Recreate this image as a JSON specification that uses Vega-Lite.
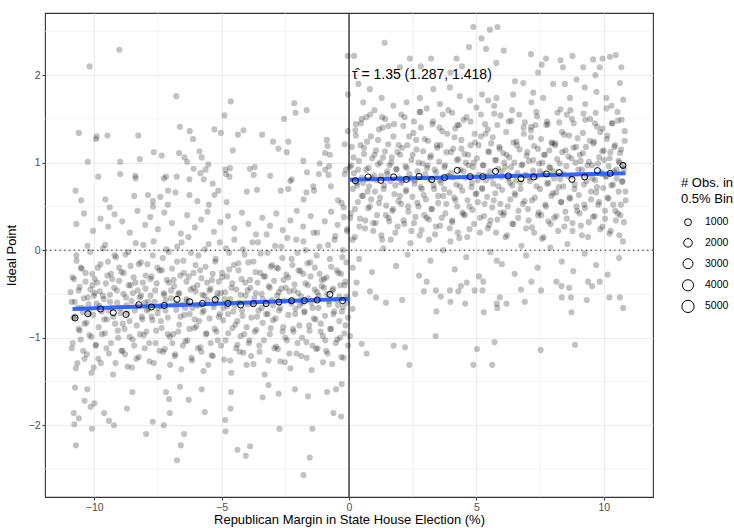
{
"$schema":"https://vega.github.io/schema/vega-lite/v6.json",
"width":608,"height":484,
"padding":{"left":45,"top":13,"right":81,"bottom":31},
"autosize":{"type":"none"},
"config":{
"view":{"stroke":"#333333","strokeWidth":1.1},
"font":"Liberation Sans",
"axis":{"labelFont":"Liberation Sans","labelFontSize":10.5,"labelColor":"#4d4d4d","titleFont":"Liberation Sans","titleFontSize":13,"titleFontWeight":"normal","titleColor":"black","tickColor":"#333333","tickSize":3,"labelPadding":2,"domain":false,"gridColor":"#ebebeb","gridWidth":1.1,"format":"d"}
},
"datasets":{
"pts":[
{"x":-10.93,"y":-0.48},{"x":-10.88,"y":-1.12},{"x":-10.85,"y":-0.31},{"x":-10.81,"y":-0.77},{"x":-10.76,"y":-0.59},{"x":-10.72,"y":-1.35},{"x":-10.69,"y":-0.12},{"x":-10.64,"y":-0.66},{"x":-10.61,"y":-0.9},{"x":-10.57,"y":-0.42},{"x":-10.53,"y":-1.02},{"x":-10.49,"y":-0.21},{"x":-10.45,"y":-0.71},{"x":-10.41,"y":-0.55},{"x":-10.38,"y":-1.24},{"x":-10.34,"y":-0.36},{"x":-10.3,"y":-0.83},{"x":-10.26,"y":0.05},{"x":-10.22,"y":-0.62},{"x":-10.19,"y":-0.97},{"x":-10.15,"y":-0.45},{"x":-10.11,"y":-1.4},{"x":-10.08,"y":-0.27},{"x":-10.04,"y":-0.74},{"x":-10.01,"y":-0.52},
{"x":-9.98,"y":-0.33},{"x":-9.94,"y":-1.08},{"x":-9.9,"y":-0.61},{"x":-9.86,"y":-0.2},{"x":-9.82,"y":-0.88},{"x":-9.78,"y":-0.47},{"x":-9.74,"y":-1.29},{"x":-9.7,"y":-0.7},{"x":-9.66,"y":0.02},{"x":-9.62,"y":-0.56},{"x":-9.58,"y":-0.95},{"x":-9.54,"y":-0.38},{"x":-9.5,"y":-0.79},{"x":-9.46,"y":-0.13},{"x":-9.42,"y":-1.18},{"x":-9.38,"y":-0.51},{"x":-9.34,"y":-0.27},{"x":-9.3,"y":-0.66},{"x":-9.26,"y":-1.42},{"x":-9.22,"y":-0.43},{"x":-9.18,"y":-0.84},{"x":-9.14,"y":-0.08},{"x":-9.1,"y":-0.6},{"x":-9.06,"y":-1.0},{"x":-9.02,"y":-0.35},
{"x":-8.97,"y":-0.72},{"x":-8.93,"y":-0.25},{"x":-8.89,"y":-1.15},{"x":-8.85,"y":-0.5},{"x":-8.81,"y":-0.9},{"x":-8.77,"y":-0.05},{"x":-8.73,"y":-0.63},{"x":-8.69,"y":-1.33},{"x":-8.65,"y":-0.4},{"x":-8.61,"y":-0.81},{"x":-8.57,"y":-0.18},{"x":-8.53,"y":-0.58},{"x":-8.49,"y":-1.02},{"x":-8.45,"y":-0.31},{"x":-8.41,"y":-0.69},{"x":-8.37,"y":0.08},{"x":-8.33,"y":-0.86},{"x":-8.29,"y":-0.46},{"x":-8.25,"y":-1.22},{"x":-8.21,"y":-0.54},{"x":-8.17,"y":-0.14},{"x":-8.13,"y":-0.76},{"x":-8.09,"y":-0.37},{"x":-8.05,"y":-0.97},{"x":-8.01,"y":-0.6},
{"x":-7.99,"y":-0.44},{"x":-7.95,"y":-0.93},{"x":-7.91,"y":-0.16},{"x":-7.87,"y":-0.67},{"x":-7.83,"y":-1.27},{"x":-7.79,"y":-0.52},{"x":-7.75,"y":-0.3},{"x":-7.71,"y":-0.8},{"x":-7.67,"y":0.1},{"x":-7.63,"y":-0.59},{"x":-7.59,"y":-1.06},{"x":-7.55,"y":-0.38},{"x":-7.51,"y":-0.72},{"x":-7.47,"y":-1.45},{"x":-7.43,"y":-0.23},{"x":-7.39,"y":-0.64},{"x":-7.35,"y":-0.89},{"x":-7.31,"y":-0.09},{"x":-7.27,"y":-0.49},{"x":-7.23,"y":-1.13},{"x":-7.19,"y":-0.57},{"x":-7.15,"y":-0.34},{"x":-7.11,"y":-0.77},{"x":-7.07,"y":-0.02},{"x":-7.03,"y":-0.99},
{"x":-6.98,"y":-0.55},{"x":-6.94,"y":-0.21},{"x":-6.9,"y":-0.96},{"x":-6.86,"y":-0.41},{"x":-6.82,"y":-1.19},{"x":-6.78,"y":-0.68},{"x":-6.74,"y":0.04},{"x":-6.7,"y":-0.5},{"x":-6.66,"y":-0.85},{"x":-6.62,"y":-0.29},{"x":-6.58,"y":-1.36},{"x":-6.54,"y":-0.62},{"x":-6.5,"y":-0.12},{"x":-6.46,"y":-0.74},{"x":-6.42,"y":-1.04},{"x":-6.38,"y":-0.36},{"x":-6.34,"y":-0.58},{"x":-6.3,"y":0.15},{"x":-6.26,"y":-0.9},{"x":-6.22,"y":-0.45},{"x":-6.18,"y":-1.23},{"x":-6.14,"y":-0.66},{"x":-6.1,"y":-0.26},{"x":-6.06,"y":-0.79},{"x":-6.02,"y":-0.47},
{"x":-5.99,"y":-0.87},{"x":-5.95,"y":-0.4},{"x":-5.91,"y":-0.06},{"x":-5.87,"y":-0.63},{"x":-5.83,"y":-1.11},{"x":-5.79,"y":-0.32},{"x":-5.75,"y":-0.71},{"x":-5.71,"y":-1.38},{"x":-5.67,"y":-0.52},{"x":-5.63,"y":-0.19},{"x":-5.59,"y":-0.95},{"x":-5.55,"y":-0.57},{"x":-5.51,"y":0.07},{"x":-5.47,"y":-0.78},{"x":-5.43,"y":-0.44},{"x":-5.39,"y":-1.2},{"x":-5.35,"y":-0.27},{"x":-5.31,"y":-0.65},{"x":-5.27,"y":-0.9},{"x":-5.23,"y":-0.1},{"x":-5.19,"y":-0.54},{"x":-5.15,"y":-1.03},{"x":-5.11,"y":-0.36},{"x":-5.07,"y":-0.73},{"x":-5.03,"y":-0.49},
{"x":-4.98,"y":-0.31},{"x":-4.94,"y":-0.8},{"x":-4.9,"y":-1.25},{"x":-4.86,"y":-0.48},{"x":-4.82,"y":0.02},{"x":-4.78,"y":-0.64},{"x":-4.74,"y":-0.95},{"x":-4.7,"y":-0.22},{"x":-4.66,"y":-0.56},{"x":-4.62,"y":-1.4},{"x":-4.58,"y":-0.38},{"x":-4.54,"y":-0.7},{"x":-4.5,"y":0.12},{"x":-4.46,"y":-0.85},{"x":-4.42,"y":-0.45},{"x":-4.38,"y":-1.08},{"x":-4.34,"y":-0.15},{"x":-4.3,"y":-0.6},{"x":-4.26,"y":-0.98},{"x":-4.22,"y":-0.33},{"x":-4.18,"y":-0.75},{"x":-4.14,"y":-1.17},{"x":-4.1,"y":-0.05},{"x":-4.06,"y":-0.52},{"x":-4.02,"y":-0.88},
{"x":-3.99,"y":-0.62},{"x":-3.95,"y":-0.14},{"x":-3.91,"y":-1.03},{"x":-3.87,"y":-0.43},{"x":-3.83,"y":-0.77},{"x":-3.79,"y":0.09},{"x":-3.75,"y":-1.3},{"x":-3.71,"y":-0.55},{"x":-3.67,"y":-0.25},{"x":-3.63,"y":-0.91},{"x":-3.59,"y":-0.37},{"x":-3.55,"y":-0.69},{"x":-3.51,"y":-1.16},{"x":-3.47,"y":-0.04},{"x":-3.43,"y":-0.5},{"x":-3.39,"y":-0.83},{"x":-3.35,"y":-0.3},{"x":-3.31,"y":-1.42},{"x":-3.27,"y":-0.6},{"x":-3.23,"y":0.18},{"x":-3.19,"y":-0.73},{"x":-3.15,"y":-0.41},{"x":-3.11,"y":-0.96},{"x":-3.07,"y":-0.19},{"x":-3.03,"y":-0.57},
{"x":-2.98,"y":-0.8},{"x":-2.94,"y":-0.35},{"x":-2.9,"y":0.05},{"x":-2.86,"y":-1.1},{"x":-2.82,"y":-0.52},{"x":-2.78,"y":-0.21},{"x":-2.74,"y":-0.69},{"x":-2.7,"y":-1.27},{"x":-2.66,"y":-0.44},{"x":-2.62,"y":-0.09},{"x":-2.58,"y":-0.88},{"x":-2.54,"y":-0.58},{"x":-2.5,"y":-1.0},{"x":-2.46,"y":-0.28},{"x":-2.42,"y":0.14},{"x":-2.38,"y":-0.74},{"x":-2.34,"y":-0.47},{"x":-2.3,"y":-1.35},{"x":-2.26,"y":-0.61},{"x":-2.22,"y":-0.17},{"x":-2.18,"y":-0.93},{"x":-2.14,"y":-0.39},{"x":-2.1,"y":-0.67},{"x":-2.06,"y":-1.18},{"x":-2.02,"y":-0.03},
{"x":-1.99,"y":-0.49},{"x":-1.95,"y":-0.86},{"x":-1.91,"y":-0.24},{"x":-1.87,"y":-1.21},{"x":-1.83,"y":-0.6},{"x":-1.79,"y":0.1},{"x":-1.75,"y":-0.71},{"x":-1.71,"y":-0.38},{"x":-1.67,"y":-1.05},{"x":-1.63,"y":-0.15},{"x":-1.59,"y":-0.55},{"x":-1.55,"y":-0.92},{"x":-1.51,"y":-0.3},{"x":-1.47,"y":-1.37},{"x":-1.43,"y":-0.66},{"x":-1.39,"y":0.2},{"x":-1.35,"y":-0.45},{"x":-1.31,"y":-0.79},{"x":-1.27,"y":-0.06},{"x":-1.23,"y":-1.12},{"x":-1.19,"y":-0.52},{"x":-1.15,"y":-0.27},{"x":-1.11,"y":-0.84},{"x":-1.07,"y":-0.41},{"x":-1.03,"y":-0.98},
{"x":-0.98,"y":-0.33},{"x":-0.94,"y":-0.75},{"x":-0.9,"y":-1.15},{"x":-0.86,"y":-0.5},{"x":-0.82,"y":0.06},{"x":-0.78,"y":-0.62},{"x":-0.74,"y":-0.9},{"x":-0.7,"y":-0.19},{"x":-0.66,"y":-1.3},{"x":-0.62,"y":-0.44},{"x":-0.58,"y":-0.7},{"x":-0.54,"y":0.16},{"x":-0.5,"y":-0.57},{"x":-0.46,"y":-1.02},{"x":-0.42,"y":-0.26},{"x":-0.38,"y":-0.81},{"x":-0.34,"y":-0.4},{"x":-0.3,"y":-1.22},{"x":-0.26,"y":-0.08},{"x":-0.22,"y":-0.65},{"x":-0.18,"y":-0.95},{"x":-0.14,"y":-0.36},{"x":-0.1,"y":-0.53},{"x":-0.07,"y":0.24},{"x":-0.04,"y":-0.77},
{"x":-10.88,"y":-0.59},{"x":-10.84,"y":-1.06},{"x":-10.79,"y":-0.33},{"x":-10.75,"y":-0.76},{"x":-10.7,"y":-0.06},{"x":-10.66,"y":-1.29},{"x":-10.61,"y":-0.46},{"x":-10.57,"y":-0.92},{"x":-10.52,"y":-0.2},{"x":-10.48,"y":-0.66},{"x":-10.43,"y":-1.15},
{"x":-10.38,"y":-0.84},{"x":-10.34,"y":-0.26},{"x":-10.29,"y":-1.19},{"x":-10.25,"y":-0.54},{"x":-10.2,"y":-0.72},{"x":-10.16,"y":-0.02},{"x":-10.11,"y":-0.99},{"x":-10.07,"y":-0.4},{"x":-10.02,"y":-1.34},{"x":-9.98,"y":-0.49},{"x":-9.93,"y":-1.09},
{"x":-9.88,"y":-0.37},{"x":-9.84,"y":-1.24},{"x":-9.79,"y":-0.64},{"x":-9.75,"y":-0.16},{"x":-9.7,"y":-0.96},{"x":-9.66,"y":-0.52},{"x":-9.61,"y":-0.79},{"x":-9.57,"y":0.06},{"x":-9.52,"y":-1.12},{"x":-9.48,"y":-0.29},{"x":-9.43,"y":-0.69},
{"x":-9.38,"y":-0.59},{"x":-9.34,"y":-1.06},{"x":-9.29,"y":-0.33},{"x":-9.25,"y":-0.76},{"x":-9.2,"y":-0.06},{"x":-9.16,"y":-1.29},{"x":-9.11,"y":-0.46},{"x":-9.07,"y":-0.92},{"x":-9.02,"y":-0.2},{"x":-8.98,"y":-0.66},{"x":-8.93,"y":-1.15},
{"x":-8.88,"y":-0.84},{"x":-8.84,"y":-0.26},{"x":-8.79,"y":-1.19},{"x":-8.75,"y":-0.54},{"x":-8.7,"y":-0.72},{"x":-8.66,"y":-0.02},{"x":-8.61,"y":-0.99},{"x":-8.57,"y":-0.4},{"x":-8.52,"y":-1.34},{"x":-8.48,"y":-0.49},{"x":-8.43,"y":-1.09},
{"x":-8.38,"y":-0.37},{"x":-8.34,"y":-1.24},{"x":-8.29,"y":-0.64},{"x":-8.25,"y":-0.16},{"x":-8.2,"y":-0.96},{"x":-8.16,"y":-0.52},{"x":-8.11,"y":-0.79},{"x":-8.07,"y":0.06},{"x":-8.02,"y":-1.12},{"x":-7.98,"y":-0.29},{"x":-7.93,"y":-0.69},
{"x":-7.88,"y":-0.59},{"x":-7.84,"y":-1.06},{"x":-7.79,"y":-0.33},{"x":-7.75,"y":-0.76},{"x":-7.7,"y":-0.06},{"x":-7.66,"y":-1.29},{"x":-7.61,"y":-0.46},{"x":-7.57,"y":-0.92},{"x":-7.52,"y":-0.2},{"x":-7.48,"y":-0.66},{"x":-7.43,"y":-1.15},
{"x":-7.38,"y":-0.81},{"x":-7.34,"y":-0.23},{"x":-7.29,"y":-1.16},{"x":-7.25,"y":-0.51},{"x":-7.2,"y":-0.69},{"x":-7.16,"y":0.01},{"x":-7.11,"y":-0.96},{"x":-7.07,"y":-0.37},{"x":-7.02,"y":-1.31},{"x":-6.98,"y":-0.46},{"x":-6.93,"y":-1.06},
{"x":-6.88,"y":-0.34},{"x":-6.84,"y":-1.21},{"x":-6.79,"y":-0.61},{"x":-6.75,"y":-0.13},{"x":-6.7,"y":-0.93},{"x":-6.66,"y":-0.49},{"x":-6.61,"y":-0.76},{"x":-6.57,"y":0.09},{"x":-6.52,"y":-1.09},{"x":-6.48,"y":-0.26},{"x":-6.43,"y":-0.66},
{"x":-6.38,"y":-0.56},{"x":-6.34,"y":-1.03},{"x":-6.29,"y":-0.3},{"x":-6.25,"y":-0.73},{"x":-6.2,"y":-0.03},{"x":-6.16,"y":-1.26},{"x":-6.11,"y":-0.43},{"x":-6.07,"y":-0.89},{"x":-6.02,"y":-0.17},{"x":-5.98,"y":-0.63},{"x":-5.93,"y":-1.12},
{"x":-5.88,"y":-0.81},{"x":-5.84,"y":-0.23},{"x":-5.79,"y":-1.16},{"x":-5.75,"y":-0.51},{"x":-5.7,"y":-0.69},{"x":-5.66,"y":0.01},{"x":-5.61,"y":-0.96},{"x":-5.57,"y":-0.37},{"x":-5.52,"y":-1.31},{"x":-5.48,"y":-0.46},{"x":-5.43,"y":-1.06},
{"x":-5.38,"y":-0.34},{"x":-5.34,"y":-1.21},{"x":-5.29,"y":-0.61},{"x":-5.25,"y":-0.13},{"x":-5.2,"y":-0.93},{"x":-5.16,"y":-0.49},{"x":-5.11,"y":-0.76},{"x":-5.07,"y":0.09},{"x":-5.02,"y":-1.09},{"x":-4.98,"y":-0.26},{"x":-4.93,"y":-0.66},
{"x":-4.88,"y":-0.56},{"x":-4.84,"y":-1.03},{"x":-4.79,"y":-0.3},{"x":-4.75,"y":-0.73},{"x":-4.7,"y":-0.03},{"x":-4.66,"y":-1.26},{"x":-4.61,"y":-0.43},{"x":-4.57,"y":-0.89},{"x":-4.52,"y":-0.17},{"x":-4.48,"y":-0.63},{"x":-4.43,"y":-1.12},
{"x":-4.38,"y":-0.81},{"x":-4.34,"y":-0.23},{"x":-4.29,"y":-1.16},{"x":-4.25,"y":-0.51},{"x":-4.2,"y":-0.69},{"x":-4.16,"y":0.01},{"x":-4.11,"y":-0.96},{"x":-4.07,"y":-0.37},{"x":-4.02,"y":-1.31},{"x":-3.98,"y":-0.46},{"x":-3.93,"y":-1.06},
{"x":-3.88,"y":-0.34},{"x":-3.84,"y":-1.21},{"x":-3.79,"y":-0.61},{"x":-3.75,"y":-0.13},{"x":-3.7,"y":-0.93},{"x":-3.66,"y":-0.49},{"x":-3.61,"y":-0.76},{"x":-3.57,"y":0.09},{"x":-3.52,"y":-1.09},{"x":-3.48,"y":-0.26},{"x":-3.43,"y":-0.66},
{"x":-3.38,"y":-0.56},{"x":-3.34,"y":-1.03},{"x":-3.29,"y":-0.3},{"x":-3.25,"y":-0.73},{"x":-3.2,"y":-0.03},{"x":-3.16,"y":-1.26},{"x":-3.11,"y":-0.43},{"x":-3.07,"y":-0.89},{"x":-3.02,"y":-0.17},{"x":-2.98,"y":-0.63},{"x":-2.93,"y":-1.12},
{"x":-2.88,"y":-0.78},{"x":-2.84,"y":-0.2},{"x":-2.79,"y":-1.13},{"x":-2.75,"y":-0.48},{"x":-2.7,"y":-0.66},{"x":-2.66,"y":0.04},{"x":-2.61,"y":-0.93},{"x":-2.57,"y":-0.34},{"x":-2.52,"y":-1.28},{"x":-2.48,"y":-0.43},{"x":-2.43,"y":-1.03},
{"x":-2.38,"y":-0.31},{"x":-2.34,"y":-1.18},{"x":-2.29,"y":-0.58},{"x":-2.25,"y":-0.1},{"x":-2.2,"y":-0.9},{"x":-2.16,"y":-0.46},{"x":-2.11,"y":-0.73},{"x":-2.07,"y":0.12},{"x":-2.02,"y":-1.06},{"x":-1.98,"y":-0.23},{"x":-1.93,"y":-0.63},
{"x":-1.88,"y":-0.53},{"x":-1.84,"y":-1.0},{"x":-1.79,"y":-0.27},{"x":-1.75,"y":-0.7},{"x":-1.7,"y":0.0},{"x":-1.66,"y":-1.23},{"x":-1.61,"y":-0.4},{"x":-1.57,"y":-0.86},{"x":-1.52,"y":-0.14},{"x":-1.48,"y":-0.6},{"x":-1.43,"y":-1.09},
{"x":-1.38,"y":-0.78},{"x":-1.34,"y":-0.2},{"x":-1.29,"y":-1.13},{"x":-1.25,"y":-0.48},{"x":-1.2,"y":-0.66},{"x":-1.16,"y":0.04},{"x":-1.11,"y":-0.93},{"x":-1.07,"y":-0.34},{"x":-1.02,"y":-1.28},{"x":-0.98,"y":-0.43},{"x":-0.93,"y":-1.03},
{"x":-0.88,"y":-0.31},{"x":-0.84,"y":-1.18},{"x":-0.79,"y":-0.58},{"x":-0.75,"y":-0.1},{"x":-0.7,"y":-0.9},{"x":-0.66,"y":-0.46},{"x":-0.61,"y":-0.73},{"x":-0.57,"y":0.12},{"x":-0.52,"y":-1.06},{"x":-0.48,"y":-0.23},{"x":-0.43,"y":-0.63},
{"x":-0.38,"y":-0.53},{"x":-0.35,"y":-1.0},{"x":-0.31,"y":-0.27},{"x":-0.28,"y":-0.7},{"x":-0.24,"y":0.0},{"x":-0.21,"y":-1.23},{"x":-0.17,"y":-0.4},{"x":-0.14,"y":-0.86},{"x":-0.1,"y":-0.14},{"x":-0.07,"y":-0.6},{"x":-0.04,"y":-1.09},
{"x":-9.01,"y":2.29},{"x":-10.18,"y":2.1},{"x":-6.78,"y":1.76},{"x":-4.64,"y":1.7},{"x":-2.15,"y":1.68},{"x":-2.1,"y":1.57},{"x":-1.66,"y":1.6},{"x":-4.89,"y":1.54},{"x":-2.55,"y":1.5},{"x":-0.04,"y":1.78},{"x":-0.05,"y":2.22},{"x":-10.6,"y":1.34},{"x":-9.9,"y":1.3},{"x":-9.93,"y":1.27},{"x":-9.48,"y":1.31},{"x":-8.27,"y":1.31},{"x":-6.64,"y":1.41},{"x":-6.25,"y":1.36},{"x":-6.12,"y":1.27},{"x":-5.28,"y":1.38},{"x":-5.03,"y":1.34},{"x":-4.36,"y":1.32},{"x":-4.14,"y":1.37},{"x":-3.41,"y":1.32},{"x":-2.98,"y":1.24},{"x":-2.77,"y":1.16},{"x":-2.38,"y":1.24},{"x":-2.44,"y":1.12},{"x":-0.87,"y":1.26},{"x":-0.84,"y":1.19},{"x":-0.94,"y":1.11},{"x":-0.75,"y":1.09},{"x":-0.17,"y":1.21},{"x":-0.05,"y":1.36},{"x":-10.25,"y":1.01},{"x":-8.98,"y":1.01},{"x":-8.21,"y":1.04},{"x":-7.66,"y":1.12},{"x":-7.35,"y":1.08},{"x":-6.67,"y":1.11},{"x":-6.46,"y":1.06},{"x":-6.35,"y":1.01},{"x":-5.87,"y":1.13},{"x":-5.78,"y":1.06},{"x":-4.56,"y":1.14},{"x":-1.79,"y":1.02},{"x":-1.15,"y":0.99},{"x":-9.84,"y":0.84},{"x":-8.98,"y":0.87},{"x":-8.39,"y":0.85},{"x":-8.37,"y":0.82},{"x":-7.27,"y":0.82},{"x":-7.18,"y":0.84},{"x":-6.76,"y":0.84},{"x":-6.26,"y":0.81},{"x":-6.1,"y":0.93},{"x":-5.83,"y":0.88},{"x":-5.63,"y":0.92},{"x":-5.52,"y":0.98},{"x":-5.7,"y":0.81},{"x":-4.85,"y":0.92},{"x":-4.67,"y":0.94},{"x":-4.83,"y":0.87},{"x":-4.69,"y":0.84},{"x":-3.89,"y":0.93},{"x":-3.7,"y":0.95},{"x":-3.74,"y":0.86},{"x":-3.09,"y":0.85},{"x":-2.25,"y":0.81},{"x":-1.65,"y":0.89},{"x":-1.18,"y":0.87},{"x":-0.8,"y":0.86},{"x":-0.93,"y":0.92},{"x":-0.78,"y":0.96},{"x":-0.17,"y":0.87},{"x":-0.12,"y":0.92},{"x":-10.73,"y":0.68},{"x":-10.51,"y":0.57},{"x":-9.56,"y":0.58},{"x":-9.39,"y":0.49},{"x":-8.43,"y":0.62},{"x":-7.89,"y":0.63},{"x":-7.7,"y":0.56},{"x":-7.69,"y":0.5},{"x":-7.4,"y":0.61},{"x":-7.11,"y":0.52},{"x":-7.1,"y":0.68},{"x":-6.81,"y":0.66},{"x":-6.26,"y":0.63},{"x":-5.95,"y":0.56},{"x":-5.5,"y":0.52},{"x":-5.28,"y":0.63},{"x":-5.35,"y":0.76},{"x":-5.13,"y":0.68},{"x":-4.8,"y":0.55},{"x":-4.01,"y":0.67},{"x":-3.61,"y":0.69},{"x":-2.68,"y":0.68},{"x":-2.38,"y":0.7},{"x":-2.3,"y":0.79},{"x":-1.67,"y":0.66},{"x":-1.37,"y":0.68},{"x":-1.78,"y":0.58},{"x":-1.4,"y":0.73},{"x":-0.71,"y":0.73},{"x":-0.43,"y":0.57},{"x":-0.29,"y":0.54},{"x":-0.21,"y":0.49},
{"x":-10.7,"y":0.3},{"x":-10.4,"y":0.42},{"x":-10.05,"y":0.22},{"x":-9.75,"y":0.36},{"x":-9.45,"y":0.27},{"x":-9.2,"y":0.41},{"x":-8.9,"y":0.33},{"x":-8.6,"y":0.2},{"x":-8.3,"y":0.45},{"x":-8.0,"y":0.29},{"x":-7.8,"y":0.38},{"x":-7.5,"y":0.24},{"x":-7.25,"y":0.43},{"x":-6.95,"y":0.31},{"x":-6.6,"y":0.19},{"x":-6.35,"y":0.4},{"x":-6.05,"y":0.26},{"x":-5.8,"y":0.35},{"x":-5.55,"y":0.44},{"x":-5.3,"y":0.21},{"x":-5.05,"y":0.32},{"x":-4.75,"y":0.39},{"x":-4.5,"y":0.25},{"x":-4.2,"y":0.43},{"x":-3.95,"y":0.3},{"x":-3.65,"y":0.18},{"x":-3.4,"y":0.37},{"x":-3.1,"y":0.28},{"x":-2.85,"y":0.42},{"x":-2.6,"y":0.23},{"x":-2.3,"y":0.34},{"x":-2.05,"y":0.45},{"x":-1.8,"y":0.27},{"x":-1.5,"y":0.39},{"x":-1.25,"y":0.2},{"x":-0.95,"y":0.33},{"x":-0.7,"y":0.44},{"x":-0.45,"y":0.29},{"x":-0.2,"y":0.38},{"x":-0.08,"y":0.22},
{"x":-10.75,"y":-1.57},{"x":-10.38,"y":-1.72},{"x":-10.8,"y":-1.86},{"x":-10.6,"y":-1.92},{"x":-10.78,"y":-1.99},{"x":-10.72,"y":-2.23},{"x":-10.27,"y":-1.59},{"x":-10.14,"y":-1.79},{"x":-9.99,"y":-1.75},{"x":-10.09,"y":-2.04},{"x":-9.61,"y":-1.86},{"x":-9.42,"y":-1.95},{"x":-9.22,"y":-2.0},{"x":-8.71,"y":-1.81},{"x":-8.5,"y":-1.62},{"x":-7.96,"y":-2.1},{"x":-7.7,"y":-1.96},{"x":-7.27,"y":-2.0},{"x":-7.03,"y":-1.86},{"x":-7.06,"y":-1.7},{"x":-7.18,"y":-1.62},{"x":-6.63,"y":-1.56},{"x":-6.29,"y":-1.71},{"x":-6.47,"y":-2.1},{"x":-6.6,"y":-2.23},{"x":-6.75,"y":-2.4},{"x":-5.66,"y":-1.85},{"x":-5.78,"y":-1.59},{"x":-4.86,"y":-1.94},{"x":-4.84,"y":-2.07},{"x":-4.65,"y":-1.81},{"x":-4.63,"y":-1.62},{"x":-4.38,"y":-2.28},{"x":-4.05,"y":-2.35},{"x":-3.88,"y":-2.24},{"x":-3.39,"y":-1.68},{"x":-3.16,"y":-1.54},{"x":-2.76,"y":-1.64},{"x":-2.73,"y":-2.04},{"x":-2.12,"y":-1.59},{"x":-1.61,"y":-1.67},{"x":-1.44,"y":-2.04},{"x":-1.54,"y":-2.37},{"x":-1.79,"y":-2.57},{"x":-0.61,"y":-1.86},{"x":-0.31,"y":-1.9},{"x":-0.51,"y":-1.59},{"x":-0.86,"y":-1.62},{"x":-0.29,"y":-1.53},
{"x":0.03,"y":0.95},{"x":0.07,"y":0.42},{"x":0.11,"y":1.18},{"x":0.15,"y":0.7},{"x":0.19,"y":0.88},{"x":0.23,"y":0.15},{"x":0.27,"y":1.31},{"x":0.31,"y":0.77},{"x":0.35,"y":0.55},{"x":0.39,"y":1.02},{"x":0.43,"y":0.36},{"x":0.47,"y":1.45},{"x":0.51,"y":0.83},{"x":0.55,"y":0.62},{"x":0.59,"y":1.1},{"x":0.63,"y":0.25},{"x":0.67,"y":0.92},{"x":0.71,"y":1.24},{"x":0.75,"y":0.48},{"x":0.79,"y":0.73},{"x":0.83,"y":1.55},{"x":0.87,"y":0.58},{"x":0.91,"y":1.05},{"x":0.95,"y":0.31},{"x":0.99,"y":0.85},
{"x":1.02,"y":0.67},{"x":1.06,"y":1.14},{"x":1.1,"y":0.4},{"x":1.14,"y":0.98},{"x":1.18,"y":1.38},{"x":1.22,"y":0.6},{"x":1.26,"y":0.85},{"x":1.3,"y":0.12},{"x":1.34,"y":1.06},{"x":1.38,"y":0.74},{"x":1.42,"y":1.5},{"x":1.46,"y":0.51},{"x":1.5,"y":0.9},{"x":1.54,"y":1.21},{"x":1.58,"y":0.33},{"x":1.62,"y":0.79},{"x":1.66,"y":1.0},{"x":1.7,"y":0.45},{"x":1.74,"y":1.3},{"x":1.78,"y":0.64},{"x":1.82,"y":0.2},{"x":1.86,"y":0.93},{"x":1.9,"y":1.12},{"x":1.94,"y":0.56},{"x":1.98,"y":0.82},
{"x":2.01,"y":1.09},{"x":2.05,"y":0.53},{"x":2.09,"y":0.8},{"x":2.13,"y":1.42},{"x":2.17,"y":0.3},{"x":2.21,"y":0.96},{"x":2.25,"y":0.69},{"x":2.29,"y":1.2},{"x":2.33,"y":0.44},{"x":2.37,"y":0.87},{"x":2.41,"y":0.08},{"x":2.45,"y":1.03},{"x":2.49,"y":0.61},{"x":2.53,"y":1.34},{"x":2.57,"y":0.76},{"x":2.61,"y":0.38},{"x":2.65,"y":1.15},{"x":2.69,"y":0.9},{"x":2.73,"y":0.5},{"x":2.77,"y":1.58},{"x":2.81,"y":0.72},{"x":2.85,"y":0.23},{"x":2.89,"y":0.99},{"x":2.93,"y":0.63},{"x":2.97,"y":1.27},
{"x":3.02,"y":0.58},{"x":3.06,"y":0.94},{"x":3.1,"y":1.25},{"x":3.14,"y":0.35},{"x":3.18,"y":0.81},{"x":3.22,"y":1.08},{"x":3.26,"y":0.47},{"x":3.3,"y":1.47},{"x":3.34,"y":0.7},{"x":3.38,"y":0.18},{"x":3.42,"y":0.89},{"x":3.46,"y":1.17},{"x":3.5,"y":0.54},{"x":3.54,"y":1.01},{"x":3.58,"y":0.28},{"x":3.62,"y":0.77},{"x":3.66,"y":1.36},{"x":3.7,"y":0.62},{"x":3.74,"y":0.95},{"x":3.78,"y":0.42},{"x":3.82,"y":1.12},{"x":3.86,"y":0.84},{"x":3.9,"y":1.6},{"x":3.94,"y":0.66},{"x":3.98,"y":0.1},
{"x":4.01,"y":0.88},{"x":4.05,"y":0.32},{"x":4.09,"y":1.16},{"x":4.13,"y":0.6},{"x":4.17,"y":1.39},{"x":4.21,"y":0.75},{"x":4.25,"y":0.5},{"x":4.29,"y":1.04},{"x":4.33,"y":0.14},{"x":4.37,"y":0.92},{"x":4.41,"y":1.26},{"x":4.45,"y":0.68},{"x":4.49,"y":0.41},{"x":4.53,"y":1.1},{"x":4.57,"y":0.83},{"x":4.61,"y":1.52},{"x":4.65,"y":0.57},{"x":4.69,"y":0.97},{"x":4.73,"y":0.24},{"x":4.77,"y":1.2},{"x":4.81,"y":0.72},{"x":4.85,"y":0.46},{"x":4.89,"y":1.0},{"x":4.93,"y":1.33},{"x":4.97,"y":0.64},
{"x":5.02,"y":1.05},{"x":5.06,"y":0.55},{"x":5.1,"y":0.86},{"x":5.14,"y":0.2},{"x":5.18,"y":1.3},{"x":5.22,"y":0.71},{"x":5.26,"y":0.97},{"x":5.3,"y":0.39},{"x":5.34,"y":1.44},{"x":5.38,"y":0.8},{"x":5.42,"y":0.61},{"x":5.46,"y":1.13},{"x":5.5,"y":0.29},{"x":5.54,"y":0.9},{"x":5.58,"y":1.22},{"x":5.62,"y":0.49},{"x":5.66,"y":0.76},{"x":5.7,"y":1.56},{"x":5.74,"y":0.65},{"x":5.78,"y":1.03},{"x":5.82,"y":0.35},{"x":5.86,"y":0.93},{"x":5.9,"y":1.18},{"x":5.94,"y":0.53},{"x":5.98,"y":0.84},
{"x":6.01,"y":0.69},{"x":6.05,"y":1.11},{"x":6.09,"y":0.43},{"x":6.13,"y":0.95},{"x":6.17,"y":1.35},{"x":6.21,"y":0.17},{"x":6.25,"y":0.82},{"x":6.29,"y":1.06},{"x":6.33,"y":0.58},{"x":6.37,"y":1.48},{"x":6.41,"y":0.74},{"x":6.45,"y":0.3},{"x":6.49,"y":1.0},{"x":6.53,"y":0.63},{"x":6.57,"y":1.24},{"x":6.61,"y":0.88},{"x":6.65,"y":0.45},{"x":6.69,"y":1.15},{"x":6.73,"y":0.77},{"x":6.77,"y":0.05},{"x":6.81,"y":0.98},{"x":6.85,"y":1.4},{"x":6.89,"y":0.56},{"x":6.93,"y":0.86},{"x":6.97,"y":1.08},
{"x":7.02,"y":0.47},{"x":7.06,"y":1.02},{"x":7.1,"y":0.79},{"x":7.14,"y":1.37},{"x":7.18,"y":0.26},{"x":7.22,"y":0.91},{"x":7.26,"y":1.19},{"x":7.3,"y":0.6},{"x":7.34,"y":0.84},{"x":7.38,"y":1.53},{"x":7.42,"y":0.4},{"x":7.46,"y":0.99},{"x":7.5,"y":0.7},{"x":7.54,"y":1.27},{"x":7.58,"y":0.13},{"x":7.62,"y":0.87},{"x":7.66,"y":1.09},{"x":7.7,"y":0.52},{"x":7.74,"y":1.43},{"x":7.78,"y":0.76},{"x":7.82,"y":0.33},{"x":7.86,"y":1.14},{"x":7.9,"y":0.94},{"x":7.94,"y":0.62},{"x":7.98,"y":1.22},
{"x":8.01,"y":0.9},{"x":8.05,"y":0.37},{"x":8.09,"y":1.2},{"x":8.13,"y":0.66},{"x":8.17,"y":1.04},{"x":8.21,"y":0.22},{"x":8.25,"y":1.46},{"x":8.29,"y":0.81},{"x":8.33,"y":0.55},{"x":8.37,"y":1.12},{"x":8.41,"y":0.73},{"x":8.45,"y":1.32},{"x":8.49,"y":0.44},{"x":8.53,"y":0.96},{"x":8.57,"y":0.07},{"x":8.61,"y":1.07},{"x":8.65,"y":0.6},{"x":8.69,"y":1.6},{"x":8.73,"y":0.85},{"x":8.77,"y":0.31},{"x":8.81,"y":1.17},{"x":8.85,"y":0.7},{"x":8.89,"y":1.0},{"x":8.93,"y":0.5},{"x":8.97,"y":1.28},
{"x":9.02,"y":0.63},{"x":9.06,"y":1.09},{"x":9.1,"y":0.28},{"x":9.14,"y":0.92},{"x":9.18,"y":1.34},{"x":9.22,"y":0.75},{"x":9.26,"y":0.48},{"x":9.3,"y":1.18},{"x":9.34,"y":0.86},{"x":9.38,"y":0.15},{"x":9.42,"y":1.01},{"x":9.46,"y":1.5},{"x":9.5,"y":0.58},{"x":9.54,"y":0.97},{"x":9.58,"y":0.38},{"x":9.62,"y":1.24},{"x":9.66,"y":0.8},{"x":9.7,"y":0.66},{"x":9.74,"y":1.41},{"x":9.78,"y":0.52},{"x":9.82,"y":1.06},{"x":9.86,"y":0.24},{"x":9.9,"y":0.89},{"x":9.94,"y":1.13},{"x":9.98,"y":0.71},
{"x":10.01,"y":1.03},{"x":10.05,"y":0.45},{"x":10.08,"y":0.84},{"x":10.12,"y":1.27},{"x":10.15,"y":0.6},{"x":10.19,"y":0.96},{"x":10.22,"y":0.19},{"x":10.26,"y":1.12},{"x":10.3,"y":0.74},{"x":10.33,"y":1.45},{"x":10.37,"y":0.52},{"x":10.4,"y":0.9},{"x":10.44,"y":1.2},{"x":10.47,"y":0.34},{"x":10.51,"y":0.82},{"x":10.54,"y":1.58},{"x":10.58,"y":0.67},{"x":10.61,"y":1.0},{"x":10.65,"y":0.4},{"x":10.68,"y":1.15},{"x":10.72,"y":0.78},{"x":10.75,"y":0.1},{"x":10.79,"y":0.93},{"x":10.82,"y":1.36},{"x":10.86,"y":0.57},
{"x":0.05,"y":0.37},{"x":0.09,"y":0.97},{"x":0.14,"y":0.12},{"x":0.18,"y":1.06},{"x":0.23,"y":0.47},{"x":0.27,"y":1.44},{"x":0.32,"y":0.74},{"x":0.36,"y":0.92},{"x":0.41,"y":0.27},{"x":0.45,"y":1.2},{"x":0.5,"y":0.62},
{"x":0.55,"y":0.77},{"x":0.59,"y":1.17},{"x":0.64,"y":0.34},{"x":0.68,"y":1.52},{"x":0.73,"y":0.67},{"x":0.77,"y":0.94},{"x":0.82,"y":0.5},{"x":0.86,"y":1.3},{"x":0.91,"y":0.82},{"x":0.95,"y":0.22},{"x":1.0,"y":1.09},
{"x":1.05,"y":0.31},{"x":1.09,"y":0.8},{"x":1.14,"y":1.26},{"x":1.18,"y":0.54},{"x":1.23,"y":1.0},{"x":1.27,"y":0.17},{"x":1.32,"y":1.4},{"x":1.36,"y":0.7},{"x":1.41,"y":1.13},{"x":1.45,"y":0.4},{"x":1.5,"y":0.87},
{"x":1.55,"y":0.37},{"x":1.59,"y":0.97},{"x":1.64,"y":0.12},{"x":1.68,"y":1.06},{"x":1.73,"y":0.47},{"x":1.77,"y":1.44},{"x":1.82,"y":0.74},{"x":1.86,"y":0.92},{"x":1.91,"y":0.27},{"x":1.95,"y":1.2},{"x":2.0,"y":0.62},
{"x":2.05,"y":0.77},{"x":2.09,"y":1.17},{"x":2.14,"y":0.34},{"x":2.18,"y":1.52},{"x":2.23,"y":0.67},{"x":2.27,"y":0.94},{"x":2.32,"y":0.5},{"x":2.36,"y":1.3},{"x":2.41,"y":0.82},{"x":2.45,"y":0.22},{"x":2.5,"y":1.09},
{"x":2.55,"y":0.31},{"x":2.59,"y":0.8},{"x":2.64,"y":1.26},{"x":2.68,"y":0.54},{"x":2.73,"y":1.0},{"x":2.77,"y":0.17},{"x":2.82,"y":1.4},{"x":2.86,"y":0.7},{"x":2.91,"y":1.13},{"x":2.95,"y":0.4},{"x":3.0,"y":0.87},
{"x":3.05,"y":0.37},{"x":3.09,"y":0.97},{"x":3.14,"y":0.12},{"x":3.18,"y":1.06},{"x":3.23,"y":0.47},{"x":3.27,"y":1.44},{"x":3.32,"y":0.74},{"x":3.36,"y":0.92},{"x":3.41,"y":0.27},{"x":3.45,"y":1.2},{"x":3.5,"y":0.62},
{"x":3.55,"y":0.8},{"x":3.59,"y":1.2},{"x":3.64,"y":0.37},{"x":3.68,"y":1.55},{"x":3.73,"y":0.7},{"x":3.77,"y":0.97},{"x":3.82,"y":0.53},{"x":3.86,"y":1.33},{"x":3.91,"y":0.85},{"x":3.95,"y":0.25},{"x":4.0,"y":1.12},
{"x":4.05,"y":0.34},{"x":4.09,"y":0.83},{"x":4.14,"y":1.29},{"x":4.18,"y":0.57},{"x":4.23,"y":1.03},{"x":4.27,"y":0.2},{"x":4.32,"y":1.43},{"x":4.36,"y":0.73},{"x":4.41,"y":1.16},{"x":4.45,"y":0.43},{"x":4.5,"y":0.9},
{"x":4.55,"y":0.4},{"x":4.59,"y":1.0},{"x":4.64,"y":0.15},{"x":4.68,"y":1.09},{"x":4.73,"y":0.5},{"x":4.77,"y":1.47},{"x":4.82,"y":0.77},{"x":4.86,"y":0.95},{"x":4.91,"y":0.3},{"x":4.95,"y":1.23},{"x":5.0,"y":0.65},
{"x":5.05,"y":0.8},{"x":5.09,"y":1.2},{"x":5.14,"y":0.37},{"x":5.18,"y":1.55},{"x":5.23,"y":0.7},{"x":5.27,"y":0.97},{"x":5.32,"y":0.53},{"x":5.36,"y":1.33},{"x":5.41,"y":0.85},{"x":5.45,"y":0.25},{"x":5.5,"y":1.12},
{"x":5.55,"y":0.34},{"x":5.59,"y":0.83},{"x":5.64,"y":1.29},{"x":5.68,"y":0.57},{"x":5.73,"y":1.03},{"x":5.77,"y":0.2},{"x":5.82,"y":1.43},{"x":5.86,"y":0.73},{"x":5.91,"y":1.16},{"x":5.95,"y":0.43},{"x":6.0,"y":0.9},
{"x":6.05,"y":0.4},{"x":6.09,"y":1.0},{"x":6.14,"y":0.15},{"x":6.18,"y":1.09},{"x":6.23,"y":0.5},{"x":6.27,"y":1.47},{"x":6.32,"y":0.77},{"x":6.36,"y":0.95},{"x":6.41,"y":0.3},{"x":6.45,"y":1.23},{"x":6.5,"y":0.65},
{"x":6.55,"y":0.8},{"x":6.59,"y":1.2},{"x":6.64,"y":0.37},{"x":6.68,"y":1.55},{"x":6.73,"y":0.7},{"x":6.77,"y":0.97},{"x":6.82,"y":0.53},{"x":6.86,"y":1.33},{"x":6.91,"y":0.85},{"x":6.95,"y":0.25},{"x":7.0,"y":1.12},
{"x":7.05,"y":0.34},{"x":7.09,"y":0.83},{"x":7.14,"y":1.29},{"x":7.18,"y":0.57},{"x":7.23,"y":1.03},{"x":7.27,"y":0.2},{"x":7.32,"y":1.43},{"x":7.36,"y":0.73},{"x":7.41,"y":1.16},{"x":7.45,"y":0.43},{"x":7.5,"y":0.9},
{"x":7.55,"y":0.4},{"x":7.59,"y":1.0},{"x":7.64,"y":0.15},{"x":7.68,"y":1.09},{"x":7.73,"y":0.5},{"x":7.77,"y":1.47},{"x":7.82,"y":0.77},{"x":7.86,"y":0.95},{"x":7.91,"y":0.3},{"x":7.95,"y":1.23},{"x":8.0,"y":0.65},
{"x":8.05,"y":0.82},{"x":8.09,"y":1.22},{"x":8.14,"y":0.39},{"x":8.18,"y":1.57},{"x":8.23,"y":0.72},{"x":8.27,"y":0.99},{"x":8.32,"y":0.55},{"x":8.36,"y":1.35},{"x":8.41,"y":0.87},{"x":8.45,"y":0.27},{"x":8.5,"y":1.14},
{"x":8.55,"y":0.36},{"x":8.59,"y":0.85},{"x":8.64,"y":1.31},{"x":8.68,"y":0.59},{"x":8.73,"y":1.05},{"x":8.77,"y":0.22},{"x":8.82,"y":1.45},{"x":8.86,"y":0.75},{"x":8.91,"y":1.18},{"x":8.95,"y":0.45},{"x":9.0,"y":0.92},
{"x":9.05,"y":0.42},{"x":9.09,"y":1.02},{"x":9.14,"y":0.17},{"x":9.18,"y":1.11},{"x":9.23,"y":0.52},{"x":9.27,"y":1.49},{"x":9.32,"y":0.79},{"x":9.36,"y":0.97},{"x":9.41,"y":0.32},{"x":9.45,"y":1.25},{"x":9.5,"y":0.67},
{"x":9.55,"y":0.82},{"x":9.59,"y":1.22},{"x":9.64,"y":0.39},{"x":9.68,"y":1.57},{"x":9.73,"y":0.72},{"x":9.77,"y":0.99},{"x":9.82,"y":0.55},{"x":9.86,"y":1.35},{"x":9.91,"y":0.87},{"x":9.95,"y":0.27},{"x":10.0,"y":1.14},
{"x":10.05,"y":0.36},{"x":10.09,"y":0.85},{"x":10.14,"y":1.31},{"x":10.18,"y":0.59},{"x":10.23,"y":1.05},{"x":10.27,"y":0.22},{"x":10.32,"y":1.45},{"x":10.36,"y":0.75},{"x":10.41,"y":1.18},{"x":10.45,"y":0.45},{"x":10.5,"y":0.92},
{"x":10.55,"y":0.42},{"x":10.58,"y":1.02},{"x":10.61,"y":0.17},{"x":10.64,"y":1.11},{"x":10.67,"y":0.52},{"x":10.7,"y":1.49},{"x":10.73,"y":0.79},{"x":10.76,"y":0.97},{"x":10.79,"y":0.32},{"x":10.82,"y":1.25},{"x":10.85,"y":0.67},
{"x":4.88,"y":2.55},{"x":5.2,"y":2.42},{"x":5.53,"y":2.52},{"x":5.83,"y":2.55},{"x":4.71,"y":2.32},{"x":5.38,"y":2.3},{"x":6.07,"y":2.28},{"x":1.4,"y":2.37},{"x":0.2,"y":2.22},{"x":7.14,"y":2.24},{"x":7.73,"y":2.19},{"x":7.56,"y":2.12},{"x":8.3,"y":2.17},{"x":8.77,"y":2.22},{"x":9.58,"y":2.18},{"x":9.95,"y":2.19},{"x":10.24,"y":2.21},{"x":10.47,"y":2.23},{"x":2.39,"y":2.19},{"x":2.82,"y":2.1},{"x":3.22,"y":2.19},{"x":4.22,"y":2.19},{"x":4.43,"y":2.1},{"x":5.78,"y":2.14},{"x":2.0,"y":2.09},{"x":8.4,"y":2.09},{"x":9.19,"y":2.09},{"x":9.67,"y":2.0},{"x":10.69,"y":2.09},{"x":10.63,"y":1.91},{"x":9.84,"y":2.09},{"x":6.51,"y":1.93},{"x":6.84,"y":1.91},{"x":6.44,"y":1.78},{"x":7.62,"y":1.74},{"x":8.01,"y":1.9},{"x":8.47,"y":1.9},{"x":9.25,"y":1.86},{"x":9.71,"y":1.81},{"x":10.1,"y":1.74},{"x":10.76,"y":1.72},{"x":0.37,"y":1.9},{"x":0.82,"y":1.84},{"x":1.28,"y":1.74},{"x":2.78,"y":1.74},{"x":3.31,"y":1.84},{"x":3.96,"y":1.86},{"x":4.35,"y":1.76},{"x":5.22,"y":1.78},{"x":5.46,"y":1.71},{"x":5.79,"y":1.74},{"x":1.74,"y":1.65},{"x":2.26,"y":1.69},{"x":3.57,"y":1.67},{"x":4.75,"y":1.71},{"x":7.16,"y":1.69},{"x":8.67,"y":1.74},{"x":9.27,"y":1.67},{"x":10.3,"y":1.65},{"x":0.56,"y":1.69},{"x":7.23,"y":1.8},{"x":8.93,"y":1.95},{"x":3.98,"y":2.03},{"x":7.42,"y":2.03},
{"x":0.5,"y":1.5},{"x":1.0,"y":1.6},{"x":1.55,"y":1.42},{"x":2.05,"y":1.55},{"x":2.55,"y":1.47},{"x":3.05,"y":1.62},{"x":3.55,"y":1.4},{"x":4.05,"y":1.57},{"x":4.5,"y":1.49},{"x":5.0,"y":1.63},{"x":5.45,"y":1.38},{"x":5.95,"y":1.54},{"x":6.4,"y":1.6},{"x":6.9,"y":1.46},{"x":7.35,"y":1.58},{"x":7.8,"y":1.44},{"x":8.3,"y":1.61},{"x":8.75,"y":1.5},{"x":9.2,"y":1.56},{"x":9.65,"y":1.45},{"x":10.1,"y":1.62},{"x":10.55,"y":1.48},{"x":0.25,"y":1.37},{"x":1.3,"y":1.52},{"x":2.8,"y":1.58},{"x":4.25,"y":1.43},{"x":5.7,"y":1.65},{"x":7.15,"y":1.41},{"x":8.55,"y":1.55},{"x":9.95,"y":1.39},
{"x":0.3,"y":-0.37},{"x":0.24,"y":-0.5},{"x":0.14,"y":-0.67},{"x":0.04,"y":-0.98},{"x":0.5,"y":-1.07},{"x":0.69,"y":-1.18},{"x":0.82,"y":-0.47},{"x":1.06,"y":-0.54},{"x":1.45,"y":-0.6},{"x":1.75,"y":-1.09},{"x":2.09,"y":-0.57},{"x":2.2,"y":-1.11},{"x":2.37,"y":-1.31},{"x":2.94,"y":-0.47},{"x":3.41,"y":-0.46},{"x":3.6,"y":-0.53},{"x":3.43,"y":-0.7},{"x":3.4,"y":-0.98},{"x":3.96,"y":-0.46},{"x":3.98,"y":-0.59},{"x":4.29,"y":-0.47},{"x":4.39,"y":-0.41},{"x":4.56,"y":-0.61},{"x":4.62,"y":-0.37},{"x":4.93,"y":-0.46},{"x":5.24,"y":-0.46},{"x":5.29,"y":-0.71},{"x":5.02,"y":-1.13},{"x":4.88,"y":-1.31},{"x":5.62,"y":-1.31},{"x":5.71,"y":-1.05},{"x":5.82,"y":-0.66},{"x":5.8,"y":-0.61},{"x":5.92,"y":-0.54},{"x":6.18,"y":-0.61},{"x":6.75,"y":-0.45},{"x":6.9,"y":-0.59},{"x":7.54,"y":-0.46},{"x":7.52,"y":-1.14},{"x":8.14,"y":-0.36},{"x":8.34,"y":-0.41},{"x":8.35,"y":-0.54},{"x":8.64,"y":-0.43},{"x":8.71,"y":-0.54},{"x":8.73,"y":-0.71},{"x":8.87,"y":-1.08},{"x":9.33,"y":-0.57},{"x":9.54,"y":-0.41},{"x":10.22,"y":-0.54},{"x":10.63,"y":-0.54},{"x":10.76,"y":-0.66},{"x":3.05,"y":-0.36},{"x":5.27,"y":-0.36},{"x":7.16,"y":-0.36},{"x":9.38,"y":-0.36},{"x":9.84,"y":-0.36},
{"x":0.4,"y":-0.1},{"x":0.9,"y":-0.25},{"x":1.35,"y":0.02},{"x":1.85,"y":-0.18},{"x":2.3,"y":-0.05},{"x":2.75,"y":-0.29},{"x":3.2,"y":-0.12},{"x":3.7,"y":0.0},{"x":4.15,"y":-0.22},{"x":4.6,"y":-0.08},{"x":5.1,"y":-0.3},{"x":5.55,"y":-0.02},{"x":6.0,"y":-0.16},{"x":6.5,"y":-0.27},{"x":6.95,"y":-0.06},{"x":7.4,"y":-0.2},{"x":7.9,"y":0.03},{"x":8.35,"y":-0.13},{"x":8.8,"y":-0.24},{"x":9.25,"y":-0.04},{"x":9.7,"y":-0.17},{"x":10.15,"y":-0.28},{"x":10.6,"y":-0.09},{"x":0.15,"y":-0.2},{"x":5.8,"y":-0.12}
],
"bins":[
{"x":-10.75,"y":-0.775,"n":560},{"x":-10.25,"y":-0.726,"n":540},{"x":-9.75,"y":-0.672,"n":575},{"x":-9.25,"y":-0.714,"n":550},{"x":-8.75,"y":-0.734,"n":565},{"x":-8.25,"y":-0.623,"n":545},{"x":-7.75,"y":-0.649,"n":570},{"x":-7.25,"y":-0.631,"n":555},{"x":-6.75,"y":-0.562,"n":580},{"x":-6.25,"y":-0.589,"n":560},{"x":-5.75,"y":-0.608,"n":550},{"x":-5.25,"y":-0.566,"n":575},{"x":-4.75,"y":-0.608,"n":565},{"x":-4.25,"y":-0.626,"n":545},{"x":-3.75,"y":-0.611,"n":560},{"x":-3.25,"y":-0.611,"n":570},{"x":-2.75,"y":-0.592,"n":555},{"x":-2.25,"y":-0.577,"n":565},{"x":-1.75,"y":-0.577,"n":550},{"x":-1.25,"y":-0.569,"n":575},{"x":-0.75,"y":-0.505,"n":560},{"x":-0.25,"y":-0.577,"n":570},
{"x":0.25,"y":0.794,"n":565},{"x":0.75,"y":0.837,"n":550},{"x":1.25,"y":0.798,"n":575},{"x":1.75,"y":0.837,"n":560},{"x":2.25,"y":0.809,"n":545},{"x":2.75,"y":0.843,"n":570},{"x":3.25,"y":0.806,"n":555},{"x":3.75,"y":0.829,"n":565},{"x":4.25,"y":0.912,"n":550},{"x":4.75,"y":0.84,"n":575},{"x":5.25,"y":0.84,"n":560},{"x":5.75,"y":0.901,"n":545},{"x":6.25,"y":0.848,"n":570},{"x":6.75,"y":0.817,"n":555},{"x":7.25,"y":0.837,"n":565},{"x":7.75,"y":0.871,"n":550},{"x":8.25,"y":0.886,"n":575},{"x":8.75,"y":0.809,"n":560},{"x":9.25,"y":0.837,"n":545},{"x":9.75,"y":0.909,"n":570},{"x":10.25,"y":0.878,"n":555},{"x":10.75,"y":0.969,"n":565}
],
"fit":[
{"x":-10.85,"y":-0.672,"side":"left"},{"x":0,"y":-0.554,"side":"left"},
{"x":0,"y":0.806,"side":"right"},{"x":10.85,"y":0.878,"side":"right"}
],
"minorx":[{"v":-7.5},{"v":-2.5},{"v":2.5},{"v":7.5}],
"minory":[{"v":-2.5},{"v":-1.5},{"v":-0.5},{"v":0.5},{"v":1.5},{"v":2.5}],
"ref":[{"v":0}],
"note":[{"x":0,"y":2,"label":"τ̂ = 1.35 (1.287, 1.418)"}]
},
"layer":[
{
"data":{"name":"minorx"},
"mark":{"type":"rule","color":"#ebebeb","strokeWidth":0.6},
"encoding":{"x":{"field":"v","type":"quantitative"}}
},
{
"data":{"name":"minory"},
"mark":{"type":"rule","color":"#ebebeb","strokeWidth":0.6},
"encoding":{"y":{"field":"v","type":"quantitative"}}
},
{
"data":{"name":"pts"},
"mark":{"type":"circle","size":38,"color":"black","opacity":0.24},
"encoding":{
"x":{"field":"x","type":"quantitative","scale":{"domain":[-11.93,11.93],"nice":false,"zero":false},
"axis":{"title":"Republican Margin in State House Election (%)","values":[-10,-5,0,5,10],"titlePadding":1}},
"y":{"field":"y","type":"quantitative","scale":{"domain":[-2.82,2.71],"nice":false,"zero":false},
"axis":{"title":"Ideal Point","values":[-2,-1,0,1,2],"titlePadding":10}}
}
},
{
"data":{"name":"ref"},
"mark":{"type":"rule","color":"black","strokeWidth":1,"strokeDash":[1.2,3.5]},
"encoding":{"y":{"field":"v","type":"quantitative"}}
},
{
"data":{"name":"ref"},
"mark":{"type":"rule","color":"black","strokeWidth":1.1},
"encoding":{"x":{"field":"v","type":"quantitative"}}
},
{
"data":{"name":"fit"},
"mark":{"type":"line","color":"#3366FF","strokeWidth":4},
"encoding":{
"x":{"field":"x","type":"quantitative"},
"y":{"field":"y","type":"quantitative"},
"detail":{"field":"side"}
}
},
{
"data":{"name":"bins"},
"mark":{"type":"point","shape":"circle","filled":false,"color":"black","strokeWidth":1,"opacity":1},
"encoding":{
"x":{"field":"x","type":"quantitative"},
"y":{"field":"y","type":"quantitative"},
"size":{"field":"n","type":"quantitative","scale":{"domain":[1000,5000],"range":[48,150],"zero":false},
"legend":{"title":["# Obs. in","0.5% Bin"],"values":[1000,2000,3000,4000,5000],"format":"d","orient":"none","legendX":636,"legendY":164,"gridAlign":"all","titleFontSize":13,"titleFontWeight":"normal","titleColor":"black","titleFont":"Liberation Sans","titleLineHeight":16,"titlePadding":11,"labelFontSize":10.5,"labelColor":"black","labelFont":"Liberation Sans","labelOffset":10,"rowPadding":2.6,"symbolStrokeColor":"black","symbolStrokeWidth":1,"symbolFillColor":"white"}}
}
},
{
"data":{"name":"note"},
"mark":{"type":"text","align":"left","baseline":"middle","dx":3,"fontSize":14,"font":"Liberation Sans","color":"black"},
"encoding":{
"x":{"field":"x","type":"quantitative"},
"y":{"field":"y","type":"quantitative"},
"text":{"field":"label"}
}
}
]
}
